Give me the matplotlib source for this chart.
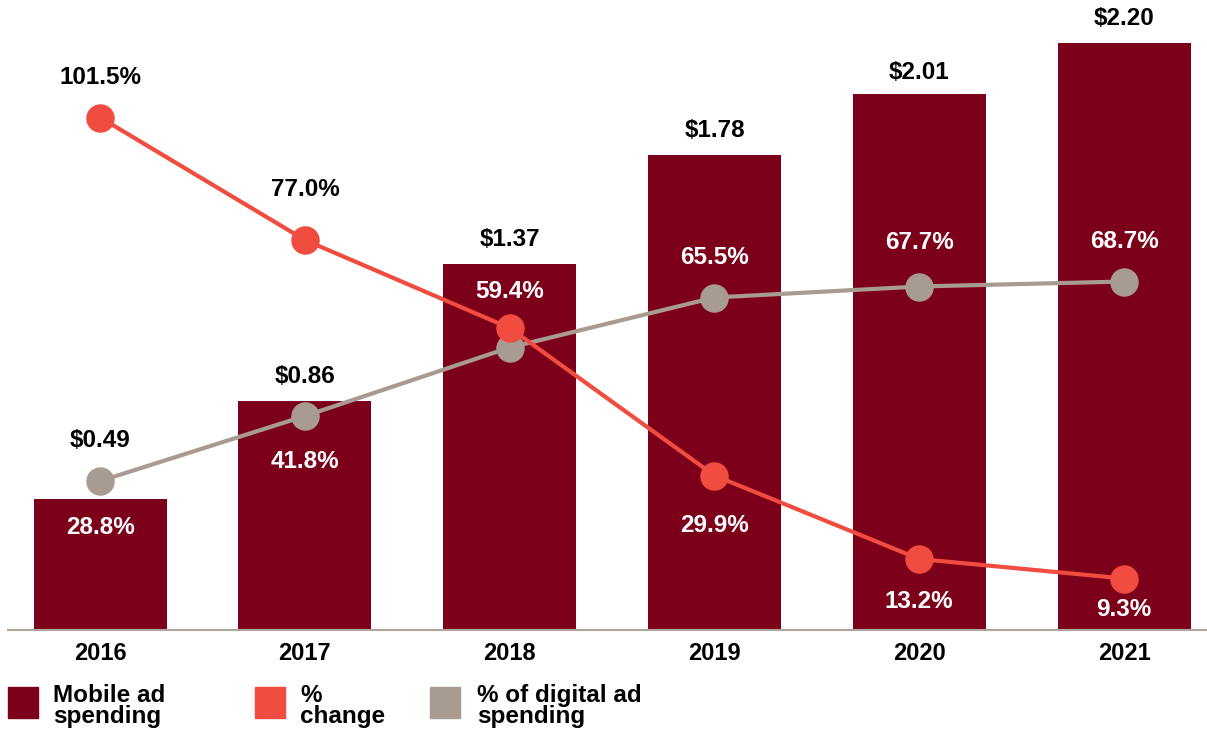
import matplotlib.pyplot as plt
from matplotlib.patches import Rectangle

plt.rcParams['font.family'] = ['Liberation Sans', 'DejaVu Sans']
plt.rcParams['font.weight'] = 'bold'

# Data
years = ['2016', '2017', '2018', '2019', '2020', '2021']
mobile = [0.49, 0.86, 1.37, 1.78, 2.01, 2.20]
change = [101.5, 77.0, 59.4, 29.9, 13.2, 9.3]
digital = [28.8, 41.8, 55.5, 65.5, 67.7, 68.7]

# label placement (pixel offsets from the value) and colours
mobile_dy = [59, 24, 25, 25, 21, 25]
change_show = [True, True, True, True, True, True]
change_dy = [40, 50, 36, -50, -43, -31]
change_col = ['black', 'black', 'white', 'white', 'white', 'white']
digital_show = [True, True, False, True, True, True]
digital_dy = [-46, -45, 0, 40, 44, 40]

bar_col = '#7d001b'
chg_col = '#f04c3f'
dig_col = '#a89b91'

fig = plt.figure(figsize=(12.07, 7.3), dpi=100)
ax = fig.add_axes([8 / 1207, 100 / 730, 1199 / 1207, 610 / 730])
ax2 = ax.twinx()

x = list(range(len(years)))
ax.bar(x, mobile, width=0.65, color=bar_col, zorder=1)
ax.set_ylim(0, 610 / 266.8)
ax.set_xlim(-0.45, 5.405)
ax2.set_ylim(-1, 121)

ax2.plot(x, digital, color=dig_col, lw=3, marker='o', ms=19.5, zorder=2)
ax2.plot(x, change, color=chg_col, lw=3, marker='o', ms=19.5, zorder=3)

fs = 17.5
for i, v in enumerate(mobile):
    ax.annotate(f'${v:.2f}', (i, v), xytext=(0, mobile_dy[i]), textcoords='offset pixels',
                ha='center', va='center', fontsize=fs, fontweight='bold', color='black')
for i, v in enumerate(change):
    if change_show[i]:
        ax2.annotate(f'{v:.1f}%', (i, v), xytext=(0, change_dy[i]), textcoords='offset pixels',
                     ha='center', va='center', fontsize=fs, fontweight='bold',
                     color=change_col[i], zorder=5)
for i, v in enumerate(digital):
    if digital_show[i]:
        ax2.annotate(f'{v:.1f}%', (i, v), xytext=(0, digital_dy[i]), textcoords='offset pixels',
                     ha='center', va='center', fontsize=fs, fontweight='bold',
                     color='white', zorder=5)

for a in (ax, ax2):
    a.set_yticks([])
    for s in a.spines.values():
        s.set_visible(False)
ax.spines['bottom'].set_visible(True)
ax.spines['bottom'].set_color('#b0a59c')
ax.spines['bottom'].set_linewidth(1.5)
ax.set_xticks(x)
ax.set_xticklabels(years, fontsize=17, fontweight='bold')
ax.tick_params(axis='x', length=0, pad=9)

# Legend
items = [('Mobile ad\nspending', bar_col, 8, 53),
         ('%\nchange', chg_col, 255, 300),
         ('% of digital ad\nspending', dig_col, 430, 477)]
for label, col, sx, tx in items:
    fig.add_artist(Rectangle((sx / 1207, 12 / 730), 30 / 1207, 31 / 730,
                             transform=fig.transFigure, color=col))
    fig.text(tx / 1207, 24 / 730, label, fontsize=17.5, fontweight='bold',
             va='center', ha='left', linespacing=0.92)

fig.savefig('out.png', dpi=100)
